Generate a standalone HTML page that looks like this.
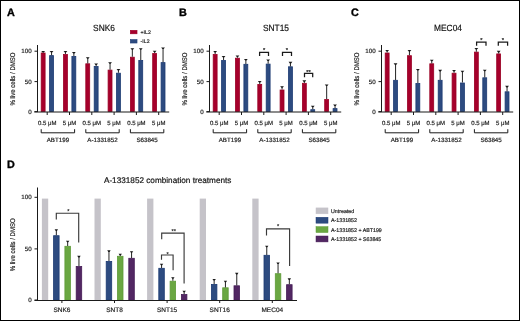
<!DOCTYPE html>
<html><head><meta charset="utf-8"><style>
html,body{margin:0;padding:0;background:#fff;}
svg{display:block;font-family:'Liberation Sans', sans-serif;will-change:transform;text-rendering:geometricPrecision;}
</style></head><body>
<svg width="520" height="321" viewBox="0 0 520 321">
<rect x="0" y="0" width="520" height="321" fill="#fff"/>
<g transform="translate(0,0)">
<text x="7" y="16.3" font-size="10.8" text-anchor="start" font-weight="bold" fill="#000" stroke="#000" stroke-width="0.35">A</text>
<text transform="translate(104,30.55) scale(0.93,1)" font-size="9.0" text-anchor="middle" font-weight="normal" fill="#111" stroke="#111" stroke-width="0.18">SNK6</text>
<rect x="41.2" y="53" width="3.9" height="58.5" fill="#a6002c" stroke="#9a0024" stroke-width="0.8"/>
<rect x="49.6" y="55.6" width="3.9" height="55.9" fill="#2d4b80" stroke="#1c3a72" stroke-width="0.8"/>
<line x1="43.15" y1="52.6" x2="43.15" y2="51.5" stroke="#2e2e2e" stroke-width="1.05"/>
<path d="M41.25 50.95 H45.05 L43.75 52.5 H42.55 Z" fill="#1a1a1a"/>
<line x1="51.55" y1="55.2" x2="51.55" y2="51.5" stroke="#2e2e2e" stroke-width="1.05"/>
<path d="M49.65 50.95 H53.45 L52.15 52.5 H50.95 Z" fill="#1a1a1a"/>
<rect x="63.5" y="54.5" width="3.9" height="57" fill="#a6002c" stroke="#9a0024" stroke-width="0.8"/>
<rect x="71.9" y="56.4" width="3.9" height="55.1" fill="#2d4b80" stroke="#1c3a72" stroke-width="0.8"/>
<line x1="65.45" y1="54.1" x2="65.45" y2="51.5" stroke="#2e2e2e" stroke-width="1.05"/>
<path d="M63.55 50.95 H67.35 L66.05 52.5 H64.85 Z" fill="#1a1a1a"/>
<line x1="73.85" y1="56" x2="73.85" y2="52.5" stroke="#2e2e2e" stroke-width="1.05"/>
<path d="M71.95 51.95 H75.75 L74.45 53.5 H73.25 Z" fill="#1a1a1a"/>
<rect x="85.8" y="63.8" width="3.9" height="47.7" fill="#a6002c" stroke="#9a0024" stroke-width="0.8"/>
<rect x="94.2" y="66.4" width="3.9" height="45.1" fill="#2d4b80" stroke="#1c3a72" stroke-width="0.8"/>
<line x1="87.75" y1="63.4" x2="87.75" y2="57.7" stroke="#2e2e2e" stroke-width="1.05"/>
<path d="M85.85 57.15 H89.65 L88.35 58.7 H87.15 Z" fill="#1a1a1a"/>
<line x1="96.15" y1="66" x2="96.15" y2="64" stroke="#2e2e2e" stroke-width="1.05"/>
<path d="M94.25 63.45 H98.05 L96.75 65 H95.55 Z" fill="#1a1a1a"/>
<rect x="108.1" y="70.1" width="3.9" height="41.4" fill="#a6002c" stroke="#9a0024" stroke-width="0.8"/>
<rect x="116.5" y="73.2" width="3.9" height="38.3" fill="#2d4b80" stroke="#1c3a72" stroke-width="0.8"/>
<line x1="110.05" y1="69.7" x2="110.05" y2="62.8" stroke="#2e2e2e" stroke-width="1.05"/>
<path d="M108.15 62.25 H111.95 L110.65 63.8 H109.45 Z" fill="#1a1a1a"/>
<line x1="118.45" y1="72.8" x2="118.45" y2="69.5" stroke="#2e2e2e" stroke-width="1.05"/>
<path d="M116.55 68.95 H120.35 L119.05 70.5 H117.85 Z" fill="#1a1a1a"/>
<rect x="130.4" y="57.2" width="3.9" height="54.3" fill="#a6002c" stroke="#9a0024" stroke-width="0.8"/>
<rect x="138.8" y="60.4" width="3.9" height="51.1" fill="#2d4b80" stroke="#1c3a72" stroke-width="0.8"/>
<line x1="132.35" y1="56.8" x2="132.35" y2="48.7" stroke="#2e2e2e" stroke-width="1.05"/>
<path d="M130.45 48.15 H134.25 L132.95 49.7 H131.75 Z" fill="#1a1a1a"/>
<line x1="140.75" y1="60" x2="140.75" y2="48.7" stroke="#2e2e2e" stroke-width="1.05"/>
<path d="M138.85 48.15 H142.65 L141.35 49.7 H140.15 Z" fill="#1a1a1a"/>
<rect x="152.7" y="53.5" width="3.9" height="58" fill="#a6002c" stroke="#9a0024" stroke-width="0.8"/>
<rect x="161.1" y="62.6" width="3.9" height="48.9" fill="#2d4b80" stroke="#1c3a72" stroke-width="0.8"/>
<line x1="154.65" y1="53.1" x2="154.65" y2="51.2" stroke="#2e2e2e" stroke-width="1.05"/>
<path d="M152.75 50.65 H156.55 L155.25 52.2 H154.05 Z" fill="#1a1a1a"/>
<line x1="163.05" y1="62.2" x2="163.05" y2="48.1" stroke="#2e2e2e" stroke-width="1.05"/>
<path d="M161.15 47.55 H164.95 L163.65 49.1 H162.45 Z" fill="#1a1a1a"/>
<line x1="37.5" y1="45" x2="37.5" y2="112" stroke="#1a1a1a" stroke-width="1"/>
<line x1="34.3" y1="112" x2="169.2" y2="112" stroke="#1a1a1a" stroke-width="1.1"/>
<line x1="34.5" y1="51.2" x2="37.5" y2="51.2" stroke="#1a1a1a" stroke-width="1"/>
<text x="31.6" y="53.3" font-size="6.2" text-anchor="end" font-weight="normal" fill="#222" stroke="#222" stroke-width="0.18">100</text>
<line x1="34.5" y1="81.6" x2="37.5" y2="81.6" stroke="#1a1a1a" stroke-width="1"/>
<text x="31.6" y="83.7" font-size="6.2" text-anchor="end" font-weight="normal" fill="#222" stroke="#222" stroke-width="0.18">50</text>
<line x1="34.5" y1="111.6" x2="37.5" y2="111.6" stroke="#1a1a1a" stroke-width="1"/>
<text x="31.6" y="113.7" font-size="6.2" text-anchor="end" font-weight="normal" fill="#222" stroke="#222" stroke-width="0.18">0</text>
<text transform="translate(14.9,79.0) rotate(-90) scale(0.89,1)" font-size="6.8" text-anchor="middle" fill="#222" stroke="#222" stroke-width="0.2">% live cells / DMSO</text>
<line x1="47.2" y1="112" x2="47.2" y2="115" stroke="#1a1a1a" stroke-width="1"/>
<text x="47.2" y="124.55" font-size="6.0" text-anchor="middle" font-weight="normal" fill="#222" stroke="#222" stroke-width="0.18">0.5 &#956;M</text>
<line x1="69.5" y1="112" x2="69.5" y2="115" stroke="#1a1a1a" stroke-width="1"/>
<text x="69.5" y="124.55" font-size="6.0" text-anchor="middle" font-weight="normal" fill="#222" stroke="#222" stroke-width="0.18">5 &#956;M</text>
<line x1="91.8" y1="112" x2="91.8" y2="115" stroke="#1a1a1a" stroke-width="1"/>
<text x="91.8" y="124.55" font-size="6.0" text-anchor="middle" font-weight="normal" fill="#222" stroke="#222" stroke-width="0.18">0.5 &#956;M</text>
<line x1="114.1" y1="112" x2="114.1" y2="115" stroke="#1a1a1a" stroke-width="1"/>
<text x="114.1" y="124.55" font-size="6.0" text-anchor="middle" font-weight="normal" fill="#222" stroke="#222" stroke-width="0.18">5 &#956;M</text>
<line x1="136.4" y1="112" x2="136.4" y2="115" stroke="#1a1a1a" stroke-width="1"/>
<text x="136.4" y="124.55" font-size="6.0" text-anchor="middle" font-weight="normal" fill="#222" stroke="#222" stroke-width="0.18">0.5 &#956;M</text>
<line x1="158.7" y1="112" x2="158.7" y2="115" stroke="#1a1a1a" stroke-width="1"/>
<text x="158.7" y="124.55" font-size="6.0" text-anchor="middle" font-weight="normal" fill="#222" stroke="#222" stroke-width="0.18">5 &#956;M</text>
<path d="M41.2 129.2 V132.8 H74.6 V129.2" fill="none" stroke="#1a1a1a" stroke-width="1"/>
<text x="57.9" y="142.3" font-size="6.2" text-anchor="middle" font-weight="normal" fill="#222" stroke="#222" stroke-width="0.18">ABT199</text>
<path d="M85.8 129.2 V132.8 H119.2 V129.2" fill="none" stroke="#1a1a1a" stroke-width="1"/>
<text x="102.5" y="142.3" font-size="6.2" text-anchor="middle" font-weight="normal" fill="#222" stroke="#222" stroke-width="0.18">A-1331852</text>
<path d="M130.4 129.2 V132.8 H163.8 V129.2" fill="none" stroke="#1a1a1a" stroke-width="1"/>
<text x="147.1" y="142.3" font-size="6.2" text-anchor="middle" font-weight="normal" fill="#222" stroke="#222" stroke-width="0.18">S63845</text>
</g>
<g transform="translate(172,0)">
<text x="7" y="16.3" font-size="10.8" text-anchor="start" font-weight="bold" fill="#000" stroke="#000" stroke-width="0.35">B</text>
<text transform="translate(104,30.55) scale(0.93,1)" font-size="9.0" text-anchor="middle" font-weight="normal" fill="#111" stroke="#111" stroke-width="0.18">SNT15</text>
<rect x="41.2" y="54.4" width="3.9" height="57.1" fill="#a6002c" stroke="#9a0024" stroke-width="0.8"/>
<rect x="49.6" y="60.4" width="3.9" height="51.1" fill="#2d4b80" stroke="#1c3a72" stroke-width="0.8"/>
<line x1="43.15" y1="54" x2="43.15" y2="51.5" stroke="#2e2e2e" stroke-width="1.05"/>
<path d="M41.25 50.95 H45.05 L43.75 52.5 H42.55 Z" fill="#1a1a1a"/>
<line x1="51.55" y1="60" x2="51.55" y2="56.6" stroke="#2e2e2e" stroke-width="1.05"/>
<path d="M49.65 56.05 H53.45 L52.15 57.6 H50.95 Z" fill="#1a1a1a"/>
<rect x="63.5" y="58.2" width="3.9" height="53.3" fill="#a6002c" stroke="#9a0024" stroke-width="0.8"/>
<rect x="71.9" y="64.3" width="3.9" height="47.2" fill="#2d4b80" stroke="#1c3a72" stroke-width="0.8"/>
<line x1="65.45" y1="57.8" x2="65.45" y2="56" stroke="#2e2e2e" stroke-width="1.05"/>
<path d="M63.55 55.45 H67.35 L66.05 57 H64.85 Z" fill="#1a1a1a"/>
<line x1="73.85" y1="63.9" x2="73.85" y2="59.6" stroke="#2e2e2e" stroke-width="1.05"/>
<path d="M71.95 59.05 H75.75 L74.45 60.6 H73.25 Z" fill="#1a1a1a"/>
<rect x="85.8" y="84.4" width="3.9" height="27.1" fill="#a6002c" stroke="#9a0024" stroke-width="0.8"/>
<rect x="94.2" y="64.1" width="3.9" height="47.4" fill="#2d4b80" stroke="#1c3a72" stroke-width="0.8"/>
<line x1="87.75" y1="84" x2="87.75" y2="81.6" stroke="#2e2e2e" stroke-width="1.05"/>
<path d="M85.85 81.05 H89.65 L88.35 82.6 H87.15 Z" fill="#1a1a1a"/>
<line x1="96.15" y1="63.7" x2="96.15" y2="60" stroke="#2e2e2e" stroke-width="1.05"/>
<path d="M94.25 59.45 H98.05 L96.75 61 H95.55 Z" fill="#1a1a1a"/>
<rect x="108.1" y="90" width="3.9" height="21.5" fill="#a6002c" stroke="#9a0024" stroke-width="0.8"/>
<rect x="116.5" y="66.8" width="3.9" height="44.7" fill="#2d4b80" stroke="#1c3a72" stroke-width="0.8"/>
<line x1="110.05" y1="89.6" x2="110.05" y2="86.8" stroke="#2e2e2e" stroke-width="1.05"/>
<path d="M108.15 86.25 H111.95 L110.65 87.8 H109.45 Z" fill="#1a1a1a"/>
<line x1="118.45" y1="66.4" x2="118.45" y2="62.4" stroke="#2e2e2e" stroke-width="1.05"/>
<path d="M116.55 61.85 H120.35 L119.05 63.4 H117.85 Z" fill="#1a1a1a"/>
<rect x="130.4" y="83.3" width="3.9" height="28.2" fill="#a6002c" stroke="#9a0024" stroke-width="0.8"/>
<rect x="138.8" y="109.7" width="3.9" height="1.8" fill="#2d4b80" stroke="#1c3a72" stroke-width="0.8"/>
<line x1="132.35" y1="82.9" x2="132.35" y2="80.9" stroke="#2e2e2e" stroke-width="1.05"/>
<path d="M130.45 80.35 H134.25 L132.95 81.9 H131.75 Z" fill="#1a1a1a"/>
<line x1="140.75" y1="109.3" x2="140.75" y2="106.3" stroke="#2e2e2e" stroke-width="1.05"/>
<path d="M138.85 105.75 H142.65 L141.35 107.3 H140.15 Z" fill="#1a1a1a"/>
<rect x="152.7" y="99.5" width="3.9" height="12" fill="#a6002c" stroke="#9a0024" stroke-width="0.8"/>
<rect x="161.1" y="108.6" width="3.9" height="2.9" fill="#2d4b80" stroke="#1c3a72" stroke-width="0.8"/>
<line x1="154.65" y1="99.1" x2="154.65" y2="85.1" stroke="#2e2e2e" stroke-width="1.05"/>
<path d="M152.75 84.55 H156.55 L155.25 86.1 H154.05 Z" fill="#1a1a1a"/>
<line x1="163.05" y1="108.2" x2="163.05" y2="105" stroke="#2e2e2e" stroke-width="1.05"/>
<path d="M161.15 104.45 H164.95 L163.65 106 H162.45 Z" fill="#1a1a1a"/>
<line x1="37.5" y1="45" x2="37.5" y2="112" stroke="#1a1a1a" stroke-width="1"/>
<line x1="34.3" y1="112" x2="169.2" y2="112" stroke="#1a1a1a" stroke-width="1.1"/>
<line x1="34.5" y1="51.2" x2="37.5" y2="51.2" stroke="#1a1a1a" stroke-width="1"/>
<text x="31.6" y="53.3" font-size="6.2" text-anchor="end" font-weight="normal" fill="#222" stroke="#222" stroke-width="0.18">100</text>
<line x1="34.5" y1="81.6" x2="37.5" y2="81.6" stroke="#1a1a1a" stroke-width="1"/>
<text x="31.6" y="83.7" font-size="6.2" text-anchor="end" font-weight="normal" fill="#222" stroke="#222" stroke-width="0.18">50</text>
<line x1="34.5" y1="111.6" x2="37.5" y2="111.6" stroke="#1a1a1a" stroke-width="1"/>
<text x="31.6" y="113.7" font-size="6.2" text-anchor="end" font-weight="normal" fill="#222" stroke="#222" stroke-width="0.18">0</text>
<text transform="translate(14.9,79.0) rotate(-90) scale(0.89,1)" font-size="6.8" text-anchor="middle" fill="#222" stroke="#222" stroke-width="0.2">% live cells / DMSO</text>
<line x1="47.2" y1="112" x2="47.2" y2="115" stroke="#1a1a1a" stroke-width="1"/>
<text x="47.2" y="124.55" font-size="6.0" text-anchor="middle" font-weight="normal" fill="#222" stroke="#222" stroke-width="0.18">0.5 &#956;M</text>
<line x1="69.5" y1="112" x2="69.5" y2="115" stroke="#1a1a1a" stroke-width="1"/>
<text x="69.5" y="124.55" font-size="6.0" text-anchor="middle" font-weight="normal" fill="#222" stroke="#222" stroke-width="0.18">5 &#956;M</text>
<line x1="91.8" y1="112" x2="91.8" y2="115" stroke="#1a1a1a" stroke-width="1"/>
<text x="91.8" y="124.55" font-size="6.0" text-anchor="middle" font-weight="normal" fill="#222" stroke="#222" stroke-width="0.18">0.5 &#956;M</text>
<line x1="114.1" y1="112" x2="114.1" y2="115" stroke="#1a1a1a" stroke-width="1"/>
<text x="114.1" y="124.55" font-size="6.0" text-anchor="middle" font-weight="normal" fill="#222" stroke="#222" stroke-width="0.18">5 &#956;M</text>
<line x1="136.4" y1="112" x2="136.4" y2="115" stroke="#1a1a1a" stroke-width="1"/>
<text x="136.4" y="124.55" font-size="6.0" text-anchor="middle" font-weight="normal" fill="#222" stroke="#222" stroke-width="0.18">0.5 &#956;M</text>
<line x1="158.7" y1="112" x2="158.7" y2="115" stroke="#1a1a1a" stroke-width="1"/>
<text x="158.7" y="124.55" font-size="6.0" text-anchor="middle" font-weight="normal" fill="#222" stroke="#222" stroke-width="0.18">5 &#956;M</text>
<path d="M41.2 129.2 V132.8 H74.6 V129.2" fill="none" stroke="#1a1a1a" stroke-width="1"/>
<text x="57.9" y="142.3" font-size="6.2" text-anchor="middle" font-weight="normal" fill="#222" stroke="#222" stroke-width="0.18">ABT199</text>
<path d="M85.8 129.2 V132.8 H119.2 V129.2" fill="none" stroke="#1a1a1a" stroke-width="1"/>
<text x="102.5" y="142.3" font-size="6.2" text-anchor="middle" font-weight="normal" fill="#222" stroke="#222" stroke-width="0.18">A-1331852</text>
<path d="M130.4 129.2 V132.8 H163.8 V129.2" fill="none" stroke="#1a1a1a" stroke-width="1"/>
<text x="147.1" y="142.3" font-size="6.2" text-anchor="middle" font-weight="normal" fill="#222" stroke="#222" stroke-width="0.18">S63845</text>
<path d="M87.6 55.95 V52.25 H96.5 V55.95" fill="none" stroke="#1a1a1a" stroke-width="1.25"/>
<text x="92.05" y="52.35" font-size="5.8" text-anchor="middle" font-weight="normal" fill="#222" stroke="#222" stroke-width="0.18">*</text>
<path d="M110.5 55.95 V52.25 H119.5 V55.95" fill="none" stroke="#1a1a1a" stroke-width="1.25"/>
<text x="115" y="52.35" font-size="5.8" text-anchor="middle" font-weight="normal" fill="#222" stroke="#222" stroke-width="0.18">*</text>
<path d="M132.5 77.15 V73.45 H140.7 V77.15" fill="none" stroke="#1a1a1a" stroke-width="1.25"/>
<text x="136.6" y="73.55" font-size="5.8" text-anchor="middle" font-weight="normal" fill="#222" stroke="#222" stroke-width="0.18">**</text>
</g>
<g transform="translate(344,0)">
<text x="7" y="16.3" font-size="10.8" text-anchor="start" font-weight="bold" fill="#000" stroke="#000" stroke-width="0.35">C</text>
<text transform="translate(104,30.55) scale(0.93,1)" font-size="9.0" text-anchor="middle" font-weight="normal" fill="#111" stroke="#111" stroke-width="0.18">MEC04</text>
<rect x="41.2" y="53" width="3.9" height="58.5" fill="#a6002c" stroke="#9a0024" stroke-width="0.8"/>
<rect x="49.6" y="80.3" width="3.9" height="31.2" fill="#2d4b80" stroke="#1c3a72" stroke-width="0.8"/>
<line x1="43.15" y1="52.6" x2="43.15" y2="50.6" stroke="#2e2e2e" stroke-width="1.05"/>
<path d="M41.25 50.05 H45.05 L43.75 51.6 H42.55 Z" fill="#1a1a1a"/>
<line x1="51.55" y1="79.9" x2="51.55" y2="63.9" stroke="#2e2e2e" stroke-width="1.05"/>
<path d="M49.65 63.35 H53.45 L52.15 64.9 H50.95 Z" fill="#1a1a1a"/>
<rect x="63.5" y="55.7" width="3.9" height="55.8" fill="#a6002c" stroke="#9a0024" stroke-width="0.8"/>
<rect x="71.9" y="83.5" width="3.9" height="28" fill="#2d4b80" stroke="#1c3a72" stroke-width="0.8"/>
<line x1="65.45" y1="55.3" x2="65.45" y2="50.6" stroke="#2e2e2e" stroke-width="1.05"/>
<path d="M63.55 50.05 H67.35 L66.05 51.6 H64.85 Z" fill="#1a1a1a"/>
<line x1="73.85" y1="83.1" x2="73.85" y2="69.5" stroke="#2e2e2e" stroke-width="1.05"/>
<path d="M71.95 68.95 H75.75 L74.45 70.5 H73.25 Z" fill="#1a1a1a"/>
<rect x="85.8" y="63.8" width="3.9" height="47.7" fill="#a6002c" stroke="#9a0024" stroke-width="0.8"/>
<rect x="94.2" y="80.3" width="3.9" height="31.2" fill="#2d4b80" stroke="#1c3a72" stroke-width="0.8"/>
<line x1="87.75" y1="63.4" x2="87.75" y2="60.2" stroke="#2e2e2e" stroke-width="1.05"/>
<path d="M85.85 59.65 H89.65 L88.35 61.2 H87.15 Z" fill="#1a1a1a"/>
<line x1="96.15" y1="79.9" x2="96.15" y2="70.4" stroke="#2e2e2e" stroke-width="1.05"/>
<path d="M94.25 69.85 H98.05 L96.75 71.4 H95.55 Z" fill="#1a1a1a"/>
<rect x="108.1" y="73.2" width="3.9" height="38.3" fill="#a6002c" stroke="#9a0024" stroke-width="0.8"/>
<rect x="116.5" y="83" width="3.9" height="28.5" fill="#2d4b80" stroke="#1c3a72" stroke-width="0.8"/>
<line x1="110.05" y1="72.8" x2="110.05" y2="70.6" stroke="#2e2e2e" stroke-width="1.05"/>
<path d="M108.15 70.05 H111.95 L110.65 71.6 H109.45 Z" fill="#1a1a1a"/>
<line x1="118.45" y1="82.6" x2="118.45" y2="71.2" stroke="#2e2e2e" stroke-width="1.05"/>
<path d="M116.55 70.65 H120.35 L119.05 72.2 H117.85 Z" fill="#1a1a1a"/>
<rect x="130.4" y="52.1" width="3.9" height="59.4" fill="#a6002c" stroke="#9a0024" stroke-width="0.8"/>
<rect x="138.8" y="77.8" width="3.9" height="33.7" fill="#2d4b80" stroke="#1c3a72" stroke-width="0.8"/>
<line x1="132.35" y1="51.7" x2="132.35" y2="48.6" stroke="#2e2e2e" stroke-width="1.05"/>
<path d="M130.45 48.05 H134.25 L132.95 49.6 H131.75 Z" fill="#1a1a1a"/>
<line x1="140.75" y1="77.4" x2="140.75" y2="70.3" stroke="#2e2e2e" stroke-width="1.05"/>
<path d="M138.85 69.75 H142.65 L141.35 71.3 H140.15 Z" fill="#1a1a1a"/>
<rect x="152.7" y="53.9" width="3.9" height="57.6" fill="#a6002c" stroke="#9a0024" stroke-width="0.8"/>
<rect x="161.1" y="91.8" width="3.9" height="19.7" fill="#2d4b80" stroke="#1c3a72" stroke-width="0.8"/>
<line x1="154.65" y1="53.5" x2="154.65" y2="51.4" stroke="#2e2e2e" stroke-width="1.05"/>
<path d="M152.75 50.85 H156.55 L155.25 52.4 H154.05 Z" fill="#1a1a1a"/>
<line x1="163.05" y1="91.4" x2="163.05" y2="86.4" stroke="#2e2e2e" stroke-width="1.05"/>
<path d="M161.15 85.85 H164.95 L163.65 87.4 H162.45 Z" fill="#1a1a1a"/>
<line x1="37.5" y1="45" x2="37.5" y2="112" stroke="#1a1a1a" stroke-width="1"/>
<line x1="34.3" y1="112" x2="169.2" y2="112" stroke="#1a1a1a" stroke-width="1.1"/>
<line x1="34.5" y1="51.2" x2="37.5" y2="51.2" stroke="#1a1a1a" stroke-width="1"/>
<text x="31.6" y="53.3" font-size="6.2" text-anchor="end" font-weight="normal" fill="#222" stroke="#222" stroke-width="0.18">100</text>
<line x1="34.5" y1="81.6" x2="37.5" y2="81.6" stroke="#1a1a1a" stroke-width="1"/>
<text x="31.6" y="83.7" font-size="6.2" text-anchor="end" font-weight="normal" fill="#222" stroke="#222" stroke-width="0.18">50</text>
<line x1="34.5" y1="111.6" x2="37.5" y2="111.6" stroke="#1a1a1a" stroke-width="1"/>
<text x="31.6" y="113.7" font-size="6.2" text-anchor="end" font-weight="normal" fill="#222" stroke="#222" stroke-width="0.18">0</text>
<text transform="translate(14.9,79.0) rotate(-90) scale(0.89,1)" font-size="6.8" text-anchor="middle" fill="#222" stroke="#222" stroke-width="0.2">% live cells / DMSO</text>
<line x1="47.2" y1="112" x2="47.2" y2="115" stroke="#1a1a1a" stroke-width="1"/>
<text x="47.2" y="124.55" font-size="6.0" text-anchor="middle" font-weight="normal" fill="#222" stroke="#222" stroke-width="0.18">0.5 &#956;M</text>
<line x1="69.5" y1="112" x2="69.5" y2="115" stroke="#1a1a1a" stroke-width="1"/>
<text x="69.5" y="124.55" font-size="6.0" text-anchor="middle" font-weight="normal" fill="#222" stroke="#222" stroke-width="0.18">5 &#956;M</text>
<line x1="91.8" y1="112" x2="91.8" y2="115" stroke="#1a1a1a" stroke-width="1"/>
<text x="91.8" y="124.55" font-size="6.0" text-anchor="middle" font-weight="normal" fill="#222" stroke="#222" stroke-width="0.18">0.5 &#956;M</text>
<line x1="114.1" y1="112" x2="114.1" y2="115" stroke="#1a1a1a" stroke-width="1"/>
<text x="114.1" y="124.55" font-size="6.0" text-anchor="middle" font-weight="normal" fill="#222" stroke="#222" stroke-width="0.18">5 &#956;M</text>
<line x1="136.4" y1="112" x2="136.4" y2="115" stroke="#1a1a1a" stroke-width="1"/>
<text x="136.4" y="124.55" font-size="6.0" text-anchor="middle" font-weight="normal" fill="#222" stroke="#222" stroke-width="0.18">0.5 &#956;M</text>
<line x1="158.7" y1="112" x2="158.7" y2="115" stroke="#1a1a1a" stroke-width="1"/>
<text x="158.7" y="124.55" font-size="6.0" text-anchor="middle" font-weight="normal" fill="#222" stroke="#222" stroke-width="0.18">5 &#956;M</text>
<path d="M41.2 129.2 V132.8 H74.6 V129.2" fill="none" stroke="#1a1a1a" stroke-width="1"/>
<text x="57.9" y="142.3" font-size="6.2" text-anchor="middle" font-weight="normal" fill="#222" stroke="#222" stroke-width="0.18">ABT199</text>
<path d="M85.8 129.2 V132.8 H119.2 V129.2" fill="none" stroke="#1a1a1a" stroke-width="1"/>
<text x="102.5" y="142.3" font-size="6.2" text-anchor="middle" font-weight="normal" fill="#222" stroke="#222" stroke-width="0.18">A-1331852</text>
<path d="M130.4 129.2 V132.8 H163.8 V129.2" fill="none" stroke="#1a1a1a" stroke-width="1"/>
<text x="147.1" y="142.3" font-size="6.2" text-anchor="middle" font-weight="normal" fill="#222" stroke="#222" stroke-width="0.18">S63845</text>
<path d="M132.6 45.7 V42 H142 V45.7" fill="none" stroke="#1a1a1a" stroke-width="1.25"/>
<text x="137.3" y="42.1" font-size="5.8" text-anchor="middle" font-weight="normal" fill="#222" stroke="#222" stroke-width="0.18">*</text>
<path d="M154.3 45.7 V42 H163.6 V45.7" fill="none" stroke="#1a1a1a" stroke-width="1.25"/>
<text x="158.95" y="42.1" font-size="5.8" text-anchor="middle" font-weight="normal" fill="#222" stroke="#222" stroke-width="0.18">*</text>
</g>
<rect x="130.25" y="30.25" width="6.8" height="3.6" fill="#a6002c" stroke="#9a0024" stroke-width="0.5"/>
<rect x="130.25" y="39.45" width="6.8" height="3.6" fill="#2d4b80" stroke="#1c3a72" stroke-width="0.5"/>
<text x="140.6" y="33.8" font-size="5.2" text-anchor="start" font-weight="normal" fill="#222" stroke="#222" stroke-width="0.18">+IL2</text>
<text x="140.6" y="43.3" font-size="5.2" text-anchor="start" font-weight="normal" fill="#222" stroke="#222" stroke-width="0.18">-IL2</text>
<text x="7" y="168.1" font-size="10.8" text-anchor="start" font-weight="bold" fill="#000" stroke="#000" stroke-width="0.35">D</text>
<text x="167.65" y="182.7" font-size="8.2" text-anchor="middle" font-weight="normal" fill="#111" stroke="#111" stroke-width="0.18">A-1331852 combination treatments</text>
<rect x="41.9" y="198.6" width="6.3" height="101.6" fill="#c5c3c9"/>
<rect x="53.6" y="235.7" width="5.5" height="64.5" fill="#2d4b80" stroke="#1c3a72" stroke-width="0.8"/>
<line x1="56.35" y1="235.3" x2="56.35" y2="229.9" stroke="#2e2e2e" stroke-width="1.05"/>
<path d="M54.65 229.35 H58.05 L56.95 230.9 H55.75 Z" fill="#1a1a1a"/>
<rect x="64.9" y="246.3" width="5.5" height="53.9" fill="#6aa742" stroke="#5e9a38" stroke-width="0.8"/>
<line x1="67.65" y1="245.9" x2="67.65" y2="241.2" stroke="#2e2e2e" stroke-width="1.05"/>
<path d="M65.95 240.65 H69.35 L68.25 242.2 H67.05 Z" fill="#1a1a1a"/>
<rect x="76.2" y="266.5" width="5.5" height="33.7" fill="#522763" stroke="#451c56" stroke-width="0.8"/>
<line x1="78.95" y1="266.1" x2="78.95" y2="256.4" stroke="#2e2e2e" stroke-width="1.05"/>
<path d="M77.25 255.85 H80.65 L79.55 257.4 H78.35 Z" fill="#1a1a1a"/>
<rect x="94.5" y="198.6" width="6.3" height="101.6" fill="#c5c3c9"/>
<rect x="106.2" y="261.4" width="5.5" height="38.8" fill="#2d4b80" stroke="#1c3a72" stroke-width="0.8"/>
<line x1="108.95" y1="261" x2="108.95" y2="250.9" stroke="#2e2e2e" stroke-width="1.05"/>
<path d="M107.25 250.35 H110.65 L109.55 251.9 H108.35 Z" fill="#1a1a1a"/>
<rect x="117.5" y="256.3" width="5.5" height="43.9" fill="#6aa742" stroke="#5e9a38" stroke-width="0.8"/>
<line x1="120.25" y1="255.9" x2="120.25" y2="254.3" stroke="#2e2e2e" stroke-width="1.05"/>
<path d="M118.55 253.75 H121.95 L120.85 255.3 H119.65 Z" fill="#1a1a1a"/>
<rect x="128.8" y="258.3" width="5.5" height="41.9" fill="#522763" stroke="#451c56" stroke-width="0.8"/>
<line x1="131.55" y1="257.9" x2="131.55" y2="251.7" stroke="#2e2e2e" stroke-width="1.05"/>
<path d="M129.85 251.15 H133.25 L132.15 252.7 H130.95 Z" fill="#1a1a1a"/>
<rect x="147.1" y="198.6" width="6.3" height="101.6" fill="#c5c3c9"/>
<rect x="158.8" y="268.3" width="5.5" height="31.9" fill="#2d4b80" stroke="#1c3a72" stroke-width="0.8"/>
<line x1="161.55" y1="267.9" x2="161.55" y2="264.3" stroke="#2e2e2e" stroke-width="1.05"/>
<path d="M159.85 263.75 H163.25 L162.15 265.3 H160.95 Z" fill="#1a1a1a"/>
<rect x="170.1" y="281.2" width="5.5" height="19" fill="#6aa742" stroke="#5e9a38" stroke-width="0.8"/>
<line x1="172.85" y1="280.8" x2="172.85" y2="277.7" stroke="#2e2e2e" stroke-width="1.05"/>
<path d="M171.15 277.15 H174.55 L173.45 278.7 H172.25 Z" fill="#1a1a1a"/>
<rect x="181.4" y="294.5" width="5.5" height="5.7" fill="#522763" stroke="#451c56" stroke-width="0.8"/>
<line x1="184.15" y1="294.1" x2="184.15" y2="291.3" stroke="#2e2e2e" stroke-width="1.05"/>
<path d="M182.45 290.75 H185.85 L184.75 292.3 H183.55 Z" fill="#1a1a1a"/>
<rect x="199.7" y="198.6" width="6.3" height="101.6" fill="#c5c3c9"/>
<rect x="211.4" y="284.4" width="5.5" height="15.8" fill="#2d4b80" stroke="#1c3a72" stroke-width="0.8"/>
<line x1="214.15" y1="284" x2="214.15" y2="279.6" stroke="#2e2e2e" stroke-width="1.05"/>
<path d="M212.45 279.05 H215.85 L214.75 280.6 H213.55 Z" fill="#1a1a1a"/>
<rect x="222.7" y="287.8" width="5.5" height="12.4" fill="#6aa742" stroke="#5e9a38" stroke-width="0.8"/>
<line x1="225.45" y1="287.4" x2="225.45" y2="281.2" stroke="#2e2e2e" stroke-width="1.05"/>
<path d="M223.75 280.65 H227.15 L226.05 282.2 H224.85 Z" fill="#1a1a1a"/>
<rect x="234" y="285.8" width="5.5" height="14.4" fill="#522763" stroke="#451c56" stroke-width="0.8"/>
<line x1="236.75" y1="285.4" x2="236.75" y2="273.4" stroke="#2e2e2e" stroke-width="1.05"/>
<path d="M235.05 272.85 H238.45 L237.35 274.4 H236.15 Z" fill="#1a1a1a"/>
<rect x="252.3" y="198.6" width="6.3" height="101.6" fill="#c5c3c9"/>
<rect x="264" y="255.3" width="5.5" height="44.9" fill="#2d4b80" stroke="#1c3a72" stroke-width="0.8"/>
<line x1="266.75" y1="254.9" x2="266.75" y2="246.2" stroke="#2e2e2e" stroke-width="1.05"/>
<path d="M265.05 245.65 H268.45 L267.35 247.2 H266.15 Z" fill="#1a1a1a"/>
<rect x="275.3" y="273.7" width="5.5" height="26.5" fill="#6aa742" stroke="#5e9a38" stroke-width="0.8"/>
<line x1="278.05" y1="273.3" x2="278.05" y2="263.1" stroke="#2e2e2e" stroke-width="1.05"/>
<path d="M276.35 262.55 H279.75 L278.65 264.1 H277.45 Z" fill="#1a1a1a"/>
<rect x="286.6" y="284.7" width="5.5" height="15.5" fill="#522763" stroke="#451c56" stroke-width="0.8"/>
<line x1="289.35" y1="284.3" x2="289.35" y2="278.9" stroke="#2e2e2e" stroke-width="1.05"/>
<path d="M287.65 278.35 H291.05 L289.95 279.9 H288.75 Z" fill="#1a1a1a"/>
<line x1="37.5" y1="187.5" x2="37.5" y2="300.7" stroke="#1a1a1a" stroke-width="1"/>
<line x1="34.5" y1="300.5" x2="297" y2="300.5" stroke="#1a1a1a" stroke-width="1.1"/>
<line x1="34.5" y1="197.3" x2="37.5" y2="197.3" stroke="#1a1a1a" stroke-width="1"/>
<text x="31.6" y="199.4" font-size="6.2" text-anchor="end" font-weight="normal" fill="#222" stroke="#222" stroke-width="0.18">100</text>
<line x1="34.5" y1="248.9" x2="37.5" y2="248.9" stroke="#1a1a1a" stroke-width="1"/>
<text x="31.6" y="251" font-size="6.2" text-anchor="end" font-weight="normal" fill="#222" stroke="#222" stroke-width="0.18">50</text>
<line x1="34.5" y1="300" x2="37.5" y2="300" stroke="#1a1a1a" stroke-width="1"/>
<text x="31.6" y="302.1" font-size="6.2" text-anchor="end" font-weight="normal" fill="#222" stroke="#222" stroke-width="0.18">0</text>
<text transform="translate(14.6,244.8) rotate(-90) scale(0.89,1)" font-size="6.8" text-anchor="middle" fill="#222" stroke="#222" stroke-width="0.2">% live cells / DMSO</text>
<line x1="61.9" y1="300.5" x2="61.9" y2="303" stroke="#1a1a1a" stroke-width="1"/>
<text x="61.9" y="311.9" font-size="6.5" text-anchor="middle" font-weight="normal" fill="#222" stroke="#222" stroke-width="0.18">SNK6</text>
<line x1="114.5" y1="300.5" x2="114.5" y2="303" stroke="#1a1a1a" stroke-width="1"/>
<text x="114.5" y="311.9" font-size="6.5" text-anchor="middle" font-weight="normal" fill="#222" stroke="#222" stroke-width="0.18">SNT8</text>
<line x1="167.1" y1="300.5" x2="167.1" y2="303" stroke="#1a1a1a" stroke-width="1"/>
<text x="167.1" y="311.9" font-size="6.5" text-anchor="middle" font-weight="normal" fill="#222" stroke="#222" stroke-width="0.18">SNT15</text>
<line x1="219.7" y1="300.5" x2="219.7" y2="303" stroke="#1a1a1a" stroke-width="1"/>
<text x="219.7" y="311.9" font-size="6.5" text-anchor="middle" font-weight="normal" fill="#222" stroke="#222" stroke-width="0.18">SNT16</text>
<line x1="272.3" y1="300.5" x2="272.3" y2="303" stroke="#1a1a1a" stroke-width="1"/>
<text x="272.3" y="311.9" font-size="6.5" text-anchor="middle" font-weight="normal" fill="#222" stroke="#222" stroke-width="0.18">MEC04</text>
<path d="M56.3 219.6 V213.2 H78.7 V242.6" fill="none" stroke="#3a3a3a" stroke-width="1.15"/>
<text x="68.3" y="212.6" font-size="5.6" text-anchor="middle" font-weight="normal" fill="#222" stroke="#222" stroke-width="0.18">*</text>
<path d="M161.7 239.2 V233.1 H184.1 V283.5" fill="none" stroke="#3a3a3a" stroke-width="1.15"/>
<text x="173.7" y="232.5" font-size="5.6" text-anchor="middle" font-weight="normal" fill="#222" stroke="#222" stroke-width="0.18">**</text>
<path d="M161.5 259.8 V255 H173.1 V270.2" fill="none" stroke="#3a3a3a" stroke-width="1.15"/>
<text x="167.6" y="255.5" font-size="5.6" text-anchor="middle" font-weight="normal" fill="#222" stroke="#222" stroke-width="0.18">*</text>
<path d="M266.5 235.5 V228.9 H289.6 V266" fill="none" stroke="#3a3a3a" stroke-width="1.15"/>
<text x="278.05" y="228.4" font-size="5.6" text-anchor="middle" font-weight="normal" fill="#222" stroke="#222" stroke-width="0.18">*</text>
<rect x="316" y="207.9" width="12" height="5.9" fill="#c5c3c9" stroke="#c5c3c9" stroke-width="0.5"/>
<text x="331" y="212.9" font-size="5.3" text-anchor="start" font-weight="normal" fill="#222" stroke="#222" stroke-width="0.18">Untreated</text>
<rect x="316" y="217.27" width="12" height="5.9" fill="#2d4b80" stroke="#1c3a72" stroke-width="0.5"/>
<text x="331" y="222.27" font-size="5.3" text-anchor="start" font-weight="normal" fill="#222" stroke="#222" stroke-width="0.18">A-1331852</text>
<rect x="316" y="226.64" width="12" height="5.9" fill="#6aa742" stroke="#5e9a38" stroke-width="0.5"/>
<text x="331" y="231.64" font-size="5.3" text-anchor="start" font-weight="normal" fill="#222" stroke="#222" stroke-width="0.18">A-1331852 + ABT199</text>
<rect x="316" y="236.01" width="12" height="5.9" fill="#522763" stroke="#451c56" stroke-width="0.5"/>
<text x="331" y="241.01" font-size="5.3" text-anchor="start" font-weight="normal" fill="#222" stroke="#222" stroke-width="0.18">A-1331852 + S63845</text>
<rect x="0.5" y="0.5" width="519" height="320" fill="none" stroke="#000" stroke-width="1"/>
</svg>
</body></html>
